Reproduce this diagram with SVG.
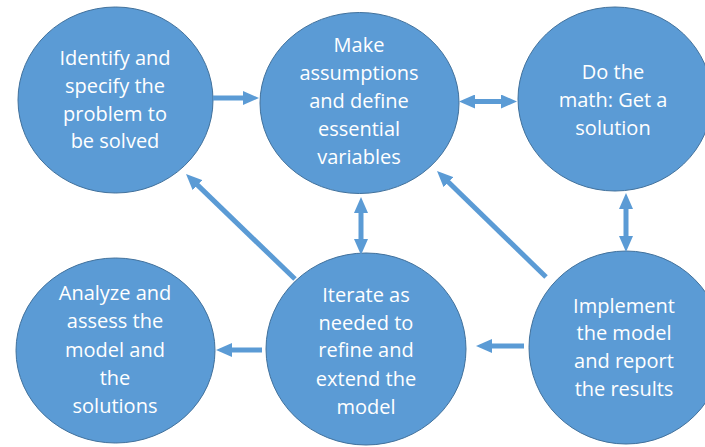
<svg xmlns="http://www.w3.org/2000/svg" width="705" height="447" viewBox="0 0 705 447">
<style>
.node{fill:#5B9BD5;stroke:#41719C;stroke-width:1}
.lbl{font-family:"Open Sans","Noto Sans",sans-serif;font-size:20px;fill:#FFFFFF;text-anchor:middle}
.conn{stroke:#5B9BD5;stroke-width:5;fill:none}
</style>
<defs>
<marker id="ah" markerUnits="userSpaceOnUse" markerWidth="16" markerHeight="14" refX="6" refY="7" orient="auto-start-reverse">
<path d="M0,0 L16,7 L0,14 z" fill="#5B9BD5"/>
</marker>
</defs>
<rect width="705" height="447" fill="#FFFFFF"/>
<g id="n1">
<ellipse class="node" cx="115.5" cy="100" rx="97.5" ry="93"/>
<text class="lbl"><tspan x="115" y="65">Identify and</tspan><tspan x="115" y="93">specify the</tspan><tspan x="115" y="121">problem to</tspan><tspan x="115" y="148">be solved</tspan></text>
</g>
<g id="n2">
<ellipse class="node" cx="359.5" cy="103" rx="99.5" ry="90.5"/>
<text class="lbl"><tspan x="359" y="52">Make</tspan><tspan x="359" y="80">assumptions</tspan><tspan x="359" y="108">and define</tspan><tspan x="359" y="136">essential</tspan><tspan x="359" y="164">variables</tspan></text>
</g>
<g id="n3">
<ellipse class="node" cx="615" cy="99" rx="97" ry="92"/>
<text class="lbl"><tspan x="613" y="79">Do the</tspan><tspan x="613" y="107">math: Get a</tspan><tspan x="613" y="135">solution</tspan></text>
</g>
<g id="n4">
<ellipse class="node" cx="115.5" cy="350.5" rx="99.5" ry="92.5"/>
<text class="lbl"><tspan x="115" y="300">Analyze and</tspan><tspan x="115" y="328">assess the</tspan><tspan x="115" y="357">model and</tspan><tspan x="115" y="385">the</tspan><tspan x="115" y="413">solutions</tspan></text>
</g>
<g id="n5">
<ellipse class="node" cx="366" cy="349" rx="100" ry="96"/>
<text class="lbl"><tspan x="366" y="302">Iterate as</tspan><tspan x="366" y="330">needed to</tspan><tspan x="366" y="357">refine and</tspan><tspan x="366" y="386">extend the</tspan><tspan x="366" y="414">model</tspan></text>
</g>
<g id="n6">
<ellipse class="node" cx="626" cy="347.5" rx="97" ry="96.5"/>
<text class="lbl"><tspan x="624" y="313">Implement</tspan><tspan x="624" y="340">the model</tspan><tspan x="624" y="368">and report</tspan><tspan x="624" y="396">the results</tspan></text>
</g>
<g id="connectors">
<line class="conn" x1="213" y1="98" x2="249" y2="98" marker-end="url(#ah)"/>
<line class="conn" x1="469" y1="101.5" x2="507" y2="101.5" marker-start="url(#ah)" marker-end="url(#ah)"/>
<line class="conn" x1="361" y1="207" x2="361" y2="245" marker-start="url(#ah)" marker-end="url(#ah)"/>
<line class="conn" x1="626" y1="203" x2="626" y2="242" marker-start="url(#ah)" marker-end="url(#ah)"/>
<line class="conn" x1="295" y1="279" x2="193.2" y2="180.9" marker-end="url(#ah)"/>
<line class="conn" x1="546" y1="277" x2="444.2" y2="178" marker-end="url(#ah)"/>
<line class="conn" x1="262" y1="350" x2="226" y2="350" marker-end="url(#ah)"/>
<line class="conn" x1="524" y1="346" x2="486" y2="346" marker-end="url(#ah)"/>
</g>
</svg>
